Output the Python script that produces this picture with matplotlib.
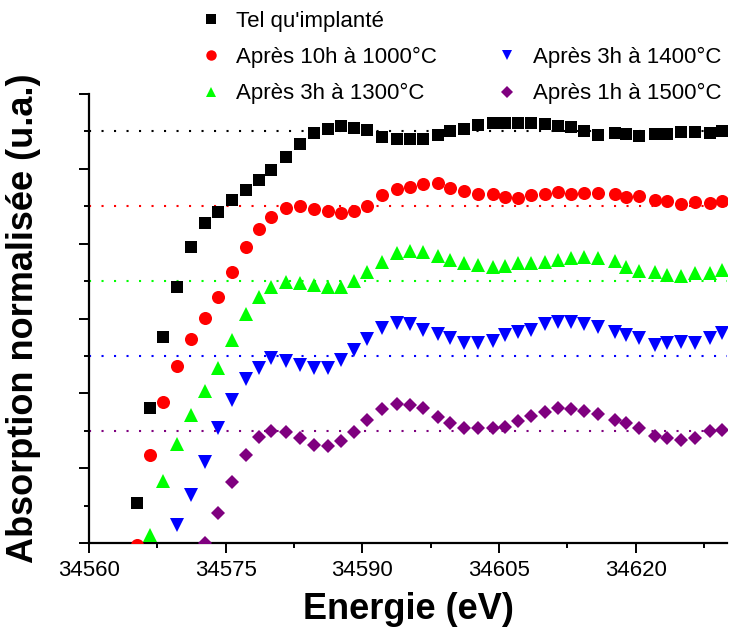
import matplotlib
matplotlib.use("Agg")
import matplotlib.pyplot as plt
from matplotlib.lines import Line2D
from matplotlib.ticker import MultipleLocator, NullFormatter

plt.rcParams['font.family'] = ['Liberation Sans', 'DejaVu Sans']

# Energy grid (eV) shared by all spectra
energy = [34565.24, 34566.73, 34568.13, 34569.70, 34571.17, 34572.74, 34574.13, 34575.67,
          34577.24, 34578.63, 34579.98, 34581.63, 34583.17, 34584.71, 34586.21, 34587.67,
          34589.13, 34590.47, 34592.20, 34593.77, 34595.17, 34596.64, 34598.29, 34599.64,
          34601.18, 34602.68, 34604.33, 34605.68, 34607.07, 34608.53, 34610.07, 34611.42,
          34612.89, 34614.35, 34615.86, 34617.68, 34618.97, 34620.39, 34622.07, 34623.43,
          34624.97, 34626.47, 34628.11, 34629.47]

labels = ["Tel qu'implanté", "Après 10h à 1000°C", "Après 3h à 1300°C",
          "Après 3h à 1400°C", "Après 1h à 1500°C"]

# first index in the energy grid where each spectrum becomes visible
start_index = [0, 0, 1, 3, 5]

# offset absorption (u.a.)
abs_tel = [0.541, 1.800, 2.757, 3.425, 3.956, 4.272, 4.423, 4.588, 4.717, 4.847, 4.989, 5.158,
           5.328, 5.479, 5.529, 5.566, 5.539, 5.519, 5.430, 5.403, 5.403, 5.399, 5.456, 5.502,
           5.529, 5.582, 5.609, 5.617, 5.617, 5.609, 5.595, 5.577, 5.559, 5.510, 5.456, 5.483,
           5.466, 5.435, 5.462, 5.462, 5.488, 5.488, 5.475, 5.502]
abs_1000 = [-0.027, 1.176, 1.888, 2.369, 2.726, 3.003, 3.291, 3.622, 3.960, 4.200, 4.353, 4.473,
            4.506, 4.461, 4.430, 4.410, 4.439, 4.504, 4.644, 4.731, 4.757, 4.798, 4.807, 4.744,
            4.704, 4.668, 4.660, 4.628, 4.606, 4.651, 4.660, 4.687, 4.668, 4.673, 4.681, 4.660,
            4.628, 4.633, 4.588, 4.566, 4.534, 4.557, 4.548, 4.570]
abs_1300 = [0.107, 0.829, 1.323, 1.711, 2.031, 2.343, 2.713, 3.064, 3.283, 3.417, 3.488, 3.475,
            3.452, 3.425, 3.425, 3.501, 3.626, 3.749, 3.875, 3.906, 3.885, 3.839, 3.782, 3.738,
            3.715, 3.692, 3.706, 3.738, 3.746, 3.759, 3.782, 3.805, 3.818, 3.805, 3.769, 3.692,
            3.639, 3.626, 3.581, 3.568, 3.612, 3.612, 3.648]
abs_1400 = [0.247, 0.648, 1.082, 1.533, 1.907, 2.192, 2.339, 2.466, 2.430, 2.372, 2.339, 2.339,
            2.450, 2.575, 2.729, 2.877, 2.940, 2.924, 2.842, 2.789, 2.735, 2.677, 2.669, 2.695,
            2.776, 2.824, 2.842, 2.927, 2.953, 2.951, 2.931, 2.891, 2.824, 2.780, 2.735, 2.646,
            2.669, 2.690, 2.679, 2.735, 2.802]
abs_1500 = [0.000, 0.397, 0.819, 1.176, 1.410, 1.501, 1.477, 1.403, 1.306, 1.294, 1.367, 1.487,
            1.644, 1.787, 1.855, 1.844, 1.800, 1.688, 1.608, 1.533, 1.533, 1.537, 1.546, 1.628,
            1.693, 1.755, 1.800, 1.787, 1.767, 1.724, 1.637, 1.604, 1.533, 1.430, 1.399, 1.376,
            1.399, 1.493, 1.514]

# baseline (offset) of each spectrum
baselines = [5.5, 4.5, 3.5, 2.5, 1.5]

series = [abs_tel, abs_1000, abs_1300, abs_1400, abs_1500]
colors = ['#000000', '#ff0000', '#00ff00', '#0000ff', '#7f007f']
markers = ['s', 'o', '^', 'v', 'D']
msizes = [8.6, 9.4, 9.6, 9.6, 7.2]

fig = plt.figure(figsize=(7.34, 6.32), dpi=100)
ax = fig.add_axes([89/734, 1-543/632, (727-89)/734, (543-94)/632])

handles = []
for vals, s0, c, m, ms, base, lab in zip(series, start_index, colors, markers, msizes, baselines, labels):
    ax.axhline(base, color=c, linestyle=(0, (1, 5.0)), linewidth=1.5, zorder=1)
    h, = ax.plot(energy[s0:s0+len(vals)], vals, linestyle='none', marker=m, markersize=ms,
                 color=c, markeredgewidth=0, label=lab, zorder=3, clip_on=True)
    handles.append(h)

ax.set_xlim(34560, 34630)
ax.set_ylim(0, 6)
ax.xaxis.set_major_locator(MultipleLocator(15))
ax.xaxis.set_minor_locator(MultipleLocator(7.5))
ax.yaxis.set_major_locator(MultipleLocator(1))
ax.yaxis.set_minor_locator(MultipleLocator(0.5))
ax.yaxis.set_major_formatter(NullFormatter())

for sp in ['top', 'right']:
    ax.spines[sp].set_visible(False)
for sp in ['left', 'bottom']:
    ax.spines[sp].set_linewidth(1.6)

ax.tick_params(which='major', length=7.2, width=1.4, direction='out', labelsize=16, pad=5)
ax.tick_params(which='minor', length=3.6, width=1.4, direction='out')

ax.set_xlabel('Energie (eV)', fontsize=26, fontweight='bold', labelpad=8)
ax.set_ylabel('Absorption normalisée (u.a.)', fontsize=26, fontweight='bold', labelpad=22)

blank = Line2D([], [], linestyle='none', marker='')
leg_handles = [handles[0], handles[1], handles[2], blank, handles[3], handles[4]]
leg_labels = [labels[0], labels[1], labels[2], '', labels[3], labels[4]]
fig.legend(leg_handles, leg_labels, ncol=2, loc='upper left',
           bbox_to_anchor=(202/734, 1-11/632), frameon=False, fontsize=16,
           handlelength=0.8, handletextpad=0.75, columnspacing=2.75, labelspacing=0.68,
           markerscale=0.8, borderpad=0, borderaxespad=0)

fig.savefig('out.png', dpi=100)
